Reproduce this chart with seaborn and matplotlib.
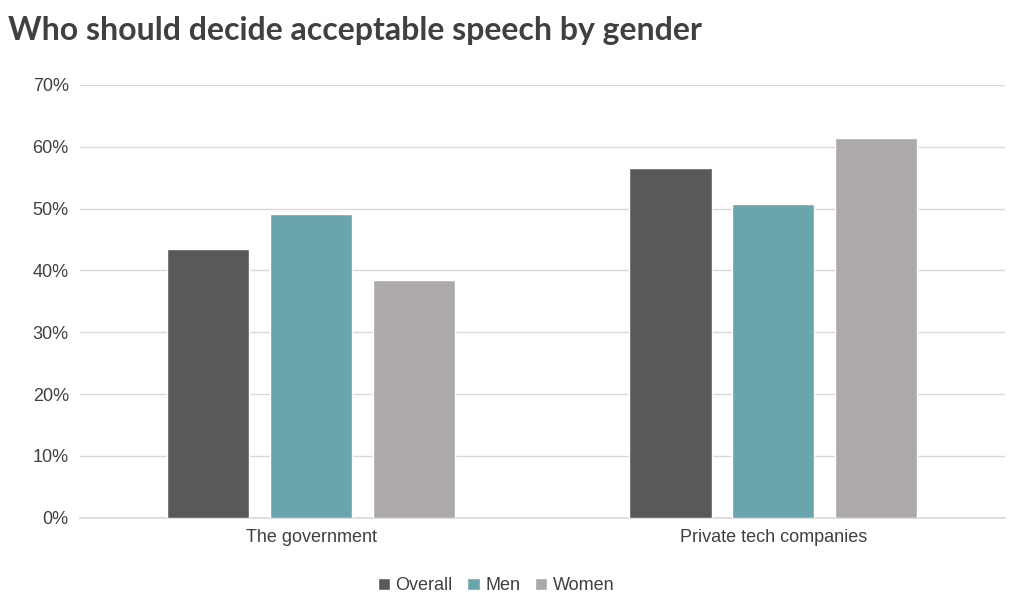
import matplotlib
matplotlib.use("Agg")
import matplotlib.pyplot as plt
import seaborn as sns
import pandas as pd
from matplotlib.ticker import PercentFormatter, MultipleLocator

categories = ["The government", "Private tech companies"]
groups = ["Overall", "Men", "Women"]
overall = [0.435, 0.565]
men = [0.492, 0.507]
women = [0.385, 0.614]
colors = ["#595959", "#69A5AC", "#ADA9A8"]

rows = []
for i, c in enumerate(categories):
    for g, vals in zip(groups, [overall, men, women]):
        rows.append({"cat": c, "group": g, "val": vals[i]})
df = pd.DataFrame(rows)

sns.set_theme(style="white")
plt.rcParams["font.family"] = ["Liberation Sans", "DejaVu Sans"]

fig = plt.figure(figsize=(10.24, 6.15), dpi=100)
ax = fig.add_axes([0.078, 0.158, 0.903, 0.704])
sns.barplot(data=df, x="cat", y="val", hue="group", palette=colors,
            width=0.667, gap=0.2, ax=ax, saturation=1, zorder=3)
ax.set_ylim(0, 0.7)
ax.set_xlim(-0.5, 1.5)
ax.yaxis.set_major_locator(MultipleLocator(0.1))
ax.yaxis.set_major_formatter(PercentFormatter(1.0, decimals=0))
ax.grid(axis="y", color="#D9D9D9", linewidth=1, zorder=0)
for s in ["top", "right", "left"]:
    ax.spines[s].set_visible(False)
ax.spines["bottom"].set_color("#D9D9D9")
ax.tick_params(axis="both", labelsize=13, colors="#404040", length=0, pad=8)
ax.set_xlabel("")
ax.set_ylabel("")
ax.legend(loc="upper center", bbox_to_anchor=(0.45, -0.1), ncol=3, frameon=False,
          fontsize=13, handlelength=0.7, handleheight=0.7, columnspacing=0.8,
          handletextpad=0.3, labelcolor="#404040")
fig.text(0.008, 0.935, "Who should decide acceptable speech by gender", fontsize=23,
         fontweight="bold", color="#404040", family=["Lato", "DejaVu Sans"])
fig.savefig("out.png", dpi=100)
